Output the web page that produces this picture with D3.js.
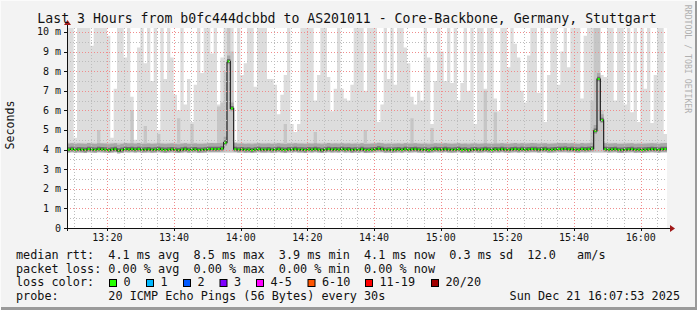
<html>
<script src="https://cdn.jsdelivr.net/npm/d3@7"></script>
<style>
  body {margin: 0; background: #f3f3f3;}
  text {font-family: "DejaVu Sans Mono", monospace; fill: #111;}
</style>
<body>
<svg id="chart" width="697" height="310"></svg>
<script>
// one column per minute, 13:07:53 -> 16:07:53
var F = 10.4; // above the top of the graph, gets clipped

var maxRtt = [
  F,F,4.6,F,F,F,F,9.3,F,F,  F,F,9.8,4.6,7.1,F,F,8.7,F,6.7,
  4.5,9.2,F,8.4,F,7.5,F,5.0,F,7.6,  F,8.7,6.8,6.0,F,6.3,7.6,5.4,7.3,F,
  7.9,F,F,8.9,F,6.3,8.7,F,F,F,  4.4,F,7.8,8.4,F,F,7.2,F,F,F,
  7.6,7.6,7.3,5.8,6.8,7.8,F,5.3,4.9,5.3,  F,F,F,F,6.5,7.8,F,F,7.7,5.95,
  7.1,F,7.1,6.6,6.5,7.3,F,F,F,7.0,  F,F,F,5.4,6.3,F,7.6,F,7.3,F,
  F,9.2,8.4,6.7,6.3,7.0,6.5,F,8.7,5.3,  7.5,F,9.0,7.5,F,7.4,F,6.5,7.4,F,
  7.0,F,5.3,F,F,7.1,F,F,6.6,5.95,  F,F,8.2,F,9.4,8.7,7.0,6.4,8.8,F,
  F,6.9,F,5.4,7.8,F,F,7.3,9.0,F,  8.2,F,F,F,6.6,9.8,F,F,F,F,
  7.8,7.7,F,F,6.5,F,F,6.3,F,5.9,  F,5.4,F,7.1,F,5.35,7.8,F,F,4.8
];

var midRtt = [
  4.35,4.35,4.35,4.35,4.35,4.35,4.35,4.35,4.35,5.0,  4.35,4.35,4.35,4.35,4.35,4.35,4.35,4.35,4.35,6.0,
  4.35,4.35,4.35,5.2,4.35,4.35,4.35,4.8,4.35,4.35,  4.35,4.35,4.35,5.6,4.35,4.35,4.35,5.3,4.35,4.35,
  4.35,4.35,4.35,4.35,4.35,6.2,6.4,8.0,F,9.0,  4.35,4.35,4.35,4.35,4.35,4.35,4.35,4.35,4.35,4.35,
  4.35,4.35,4.35,4.35,4.35,5.3,4.35,4.35,4.35,4.35,  4.35,4.35,4.35,4.35,4.9,4.35,4.35,4.35,4.35,4.35,
  4.35,4.35,4.35,4.35,4.35,4.35,4.35,4.35,4.35,5.0,  4.35,4.35,4.35,4.35,4.35,4.35,4.35,4.35,4.35,4.35,
  4.35,4.35,4.35,5.6,4.35,4.35,4.35,4.35,4.35,5.1,  4.35,4.35,4.35,4.35,4.35,4.35,4.35,4.35,4.35,4.35,
  4.35,4.35,4.35,4.35,4.35,7.0,4.35,4.35,5.9,4.35,  4.35,4.35,4.35,4.35,4.35,4.35,4.35,4.35,4.35,4.35,
  4.35,4.35,4.35,4.35,4.35,4.35,4.35,4.35,4.35,4.35,  4.35,4.35,4.35,4.35,4.35,4.35,4.35,6.5,F,F,
  6.0,4.35,4.35,4.35,4.35,4.35,4.35,4.35,4.35,4.35,  4.35,4.35,4.35,4.35,4.35,4.35,4.35,4.35,4.35,4.35
];

var medianRtt = [
  4.0,4.02,3.99,4.01,4.0,3.98,4.03,4.0,3.99,4.02,  4.01,4.0,3.97,4.0,4.02,3.95,3.98,4.03,4.01,4.02,
  4.0,4.03,3.99,4.0,4.01,3.99,4.0,4.02,4.0,3.98,  4.0,4.01,3.99,3.97,4.0,4.02,3.99,4.0,4.01,3.98,
  3.99,4.0,4.02,4.03,4.02,4.03,4.05,4.35,8.5,6.1,  4.02,4.0,4.01,3.99,4.0,3.97,4.0,4.02,4.0,4.0,
  4.01,3.99,4.0,4.02,4.0,3.98,4.01,4.0,4.02,4.0,  4.0,3.98,4.01,4.0,4.02,4.0,3.97,4.0,4.03,4.0,
  4.01,4.0,4.02,4.0,4.01,3.98,4.0,3.99,4.02,3.98,  3.99,4.0,4.01,4.05,4.02,3.99,4.0,3.98,4.0,4.01,
  3.99,4.02,4.0,4.01,4.02,4.0,3.99,4.0,3.97,4.0,  4.02,4.01,4.0,4.02,4.0,3.99,4.0,4.02,3.98,4.0,
  3.97,4.0,4.01,3.99,4.0,4.02,4.0,3.98,4.01,4.0,  4.02,4.0,3.99,4.01,4.03,4.0,4.02,4.0,4.01,4.03,
  4.02,4.0,4.01,4.02,3.99,4.0,4.01,4.03,4.02,4.04,  4.01,4.02,4.0,3.99,4.03,4.01,4.02,4.05,4.95,7.6,
  5.5,4.02,4.0,4.01,4.02,3.99,3.98,4.0,4.01,4.02,  3.99,4.0,3.98,4.0,4.01,4.02,4.01,3.99,4.02,4.03
];

var smokeFloor = 3.85;
var yTicks = [0,1,2,3,4,5,6,7,8,9,10];
var yLabels = ['0','1 m','2 m','3 m','4 m','5 m','6 m','7 m','8 m','9 m','10 m'];

var title = 'Last 3 Hours from b0fc444dcbbd to AS201011 - Core-Backbone, Germany, Stuttgart';
var legendLines = [
  'median rtt:  4.1 ms avg  8.5 ms max  3.9 ms min  4.1 ms now  0.3 ms sd  12.0   am/s',
  'packet loss: 0.00 % avg  0.00 % max  0.00 % min  0.00 % now',
  'loss color:',
  'probe:       20 ICMP Echo Pings (56 Bytes) every 30s'
];
var lossNames = ['0','1','2','3','4-5','6-10','11-19','20/20'];
var lossColors = ['#26ff00','#00b8ff','#0059ff','#7e00ff','#ff00ff','#ff5500','#ff0000','#a10000'];
var lossBoxX = [109,146,183,219.5,256,307.5,365,431];
var stamp = 'Sun Dec 21 16:07:53 2025';

var t0 = new Date(2025, 11, 21, 13, 7, 53);
var t1 = new Date(2025, 11, 21, 16, 7, 53);

var svg = d3.select('#chart');
var gLeft = 67, gRight = 667, gTop = 28, gBottom = 228;

var x = d3.scaleTime().domain([t0, t1]).range([gLeft, gRight]);
var y = d3.scaleLinear().domain([0, 10.2]).range([gBottom, gTop]);

// border shading
svg.append('rect').attr('width',697).attr('height',310).attr('fill','#f3f3f3');
svg.append('rect').attr('x',695).attr('y',0).attr('width',2).attr('height',310).attr('fill','#9a9a9a');
svg.append('rect').attr('x',0).attr('y',307).attr('width',697).attr('height',3).attr('fill','#9a9a9a');
svg.append('rect').attr('x',0).attr('y',0).attr('width',697).attr('height',1).attr('fill','#fbfbfb');
svg.append('rect').attr('x',0).attr('y',0).attr('width',1).attr('height',310).attr('fill','#fbfbfb');

svg.append('rect').attr('x',gLeft).attr('y',gTop).attr('width',gRight-gLeft).attr('height',gBottom-gTop).attr('fill','white');

svg.append('clipPath').attr('id','plotclip')
  .append('rect').attr('x',gLeft).attr('y',gTop).attr('width',gRight-gLeft).attr('height',gBottom-gTop);

var rows = maxRtt.map(function(d,i) {
  return {t: d3.timeMinute.offset(t0, i), max: d, mid: midRtt[i], med: medianRtt[i]};
});
// closing point for the step curves
var last = rows[rows.length-1];
var rowsEnd = rows.concat([{t: t1, max: last.max, mid: last.mid, med: last.med}]);

var plot = svg.append('g').attr('clip-path','url(#plotclip)');

function band(lo, hi, color) {
  plot.append('path')
    .datum(rowsEnd)
    .attr('fill', color)
    .attr('d', d3.area().curve(d3.curveStepAfter)
      .x(function(d) {return x(d.t);})
      .y0(function(d) {return y(lo(d));})
      .y1(function(d) {return y(hi(d));}));
}

// smoke
band(function(d){return smokeFloor;}, function(d){return d.max;}, '#dddddd');
band(function(d){return smokeFloor;}, function(d){return d.mid;}, '#c6c6c6');
band(function(d){return d.med-0.15;}, function(d){return d.med+0.3;}, '#a8a8a8');
band(function(d){return d.med-0.08;}, function(d){return d.med+0.12;}, '#6e6e6e');

// grid
var minorX = d3.timeMinute.every(5).range(t0, t1).filter(function(d){return d.getMinutes()%20 != 0;});
var majorX = d3.timeMinute.every(20).range(t0, t1);

var grid = svg.append('g').attr('shape-rendering','crispEdges');
grid.selectAll('.vminor').data(minorX).enter().append('line')
  .attr('x1',function(d){return Math.round(x(d))+0.5;}).attr('x2',function(d){return Math.round(x(d))+0.5;})
  .attr('y1',gTop).attr('y2',gBottom)
  .attr('stroke','#bcbcbc').attr('stroke-dasharray','1,2');
var yMinor = [0.5,1.5,2.5,3.5,4.5,5.5,6.5,7.5,8.5,9.5];
grid.selectAll('.hminor').data(yMinor).enter().append('line')
  .attr('x1',gLeft).attr('x2',gRight)
  .attr('y1',function(d){return Math.round(y(d))+0.5;}).attr('y2',function(d){return Math.round(y(d))+0.5;})
  .attr('stroke','#bcbcbc').attr('stroke-dasharray','1,2');
grid.selectAll('.vmajor').data(majorX).enter().append('line')
  .attr('x1',function(d){return Math.round(x(d))+0.5;}).attr('x2',function(d){return Math.round(x(d))+0.5;})
  .attr('y1',gTop).attr('y2',gBottom)
  .attr('stroke','#f08c8c').attr('stroke-dasharray','1,2');
grid.selectAll('.hmajor').data(yTicks.slice(1)).enter().append('line')
  .attr('x1',gLeft).attr('x2',gRight)
  .attr('y1',function(d){return Math.round(y(d))+0.5;}).attr('y2',function(d){return Math.round(y(d))+0.5;})
  .attr('stroke','#f08c8c').attr('stroke-dasharray','1,2');

// median: dark step line, then loss coloured segments
plot.append('path')
  .datum(rowsEnd)
  .attr('fill','none').attr('stroke','#202020').attr('stroke-width',1.2)
  .attr('d', d3.line().curve(d3.curveStepAfter)
    .x(function(d){return x(d.t);}).y(function(d){return y(d.med);}));
plot.selectAll('.seg').data(rows).enter().append('line')
  .attr('x1',function(d){return x(d.t)+0.6;})
  .attr('x2',function(d){return x(d3.timeMinute.offset(d.t,1))-0.6;})
  .attr('y1',function(d){return y(d.med);}).attr('y2',function(d){return y(d.med);})
  .attr('stroke', lossColors[0]).attr('stroke-width',2);

// axes
var axes = svg.append('g').attr('shape-rendering','crispEdges');
axes.append('line').attr('x1',gLeft-3).attr('x2',671).attr('y1',gBottom+0.5).attr('y2',gBottom+0.5).attr('stroke','#101010');
axes.append('line').attr('x1',gLeft+0.5).attr('x2',gLeft+0.5).attr('y1',gBottom+3).attr('y2',gTop-4).attr('stroke','#101010');
svg.append('path').attr('d','M670,225 L675,228.5 L670,232 Z').attr('fill','#a01818');
svg.append('path').attr('d','M64,25 L67.5,20 L71,25 Z').attr('fill','#a01818');

axes.selectAll('.ytick').data(yTicks).enter().append('line')
  .attr('x1',gLeft-3).attr('x2',gLeft)
  .attr('y1',function(d){return Math.round(y(d))+0.5;}).attr('y2',function(d){return Math.round(y(d))+0.5;})
  .attr('stroke','#101010');
axes.selectAll('.xtick').data(majorX).enter().append('line')
  .attr('x1',function(d){return Math.round(x(d))+0.5;}).attr('x2',function(d){return Math.round(x(d))+0.5;})
  .attr('y1',gBottom).attr('y2',gBottom+3)
  .attr('stroke','#101010');

svg.selectAll('.ylab').data(yTicks).enter().append('text')
  .attr('x',61).attr('y',function(d){return y(d)+3.5;})
  .attr('text-anchor','end').style('font-size','10px')
  .text(function(d,i){return yLabels[i];});

svg.selectAll('.xlab').data(majorX).enter().append('text')
  .attr('x',function(d){return x(d);}).attr('y',241)
  .attr('text-anchor','middle').style('font-size','10px')
  .text(d3.timeFormat('%H:%M'));

// titles
svg.append('text').attr('x',347).attr('y',23)
  .attr('text-anchor','middle').style('font-size','13.2px')
  .text(title);
svg.append('text').attr('transform','translate(14,125) rotate(-90)')
  .attr('text-anchor','middle').style('font-size','11.6px')
  .text('Seconds');
svg.append('text').attr('transform','translate(685,59) rotate(90)')
  .attr('text-anchor','middle').style('font-size','8.2px').style('fill','#b0b0b0')
  .text('RRDTOOL / TOBI OETIKER');

// legend
var rowY = [259, 272.7, 286.4, 300];
svg.selectAll('.leg').data(legendLines).enter().append('text')
  .attr('x',16).attr('y',function(d,i){return rowY[i];})
  .style('font-size','11.8px').style('white-space','pre')
  .text(function(d){return d;});

svg.selectAll('.lossbox').data(lossColors).enter().append('rect')
  .attr('x',function(d,i){return lossBoxX[i]+0.5;}).attr('y',279.5)
  .attr('width',7).attr('height',7)
  .attr('fill',function(d){return d;}).attr('stroke','#000').attr('stroke-width',1);
svg.selectAll('.losstext').data(lossNames).enter().append('text')
  .attr('x',function(d,i){return lossBoxX[i]+14.5;}).attr('y',rowY[2])
  .style('font-size','11.8px')
  .text(function(d){return d;});

svg.append('text').attr('x',680).attr('y',rowY[3])
  .attr('text-anchor','end').style('font-size','11.8px')
  .text(stamp);
</script>
</body>
</html>
